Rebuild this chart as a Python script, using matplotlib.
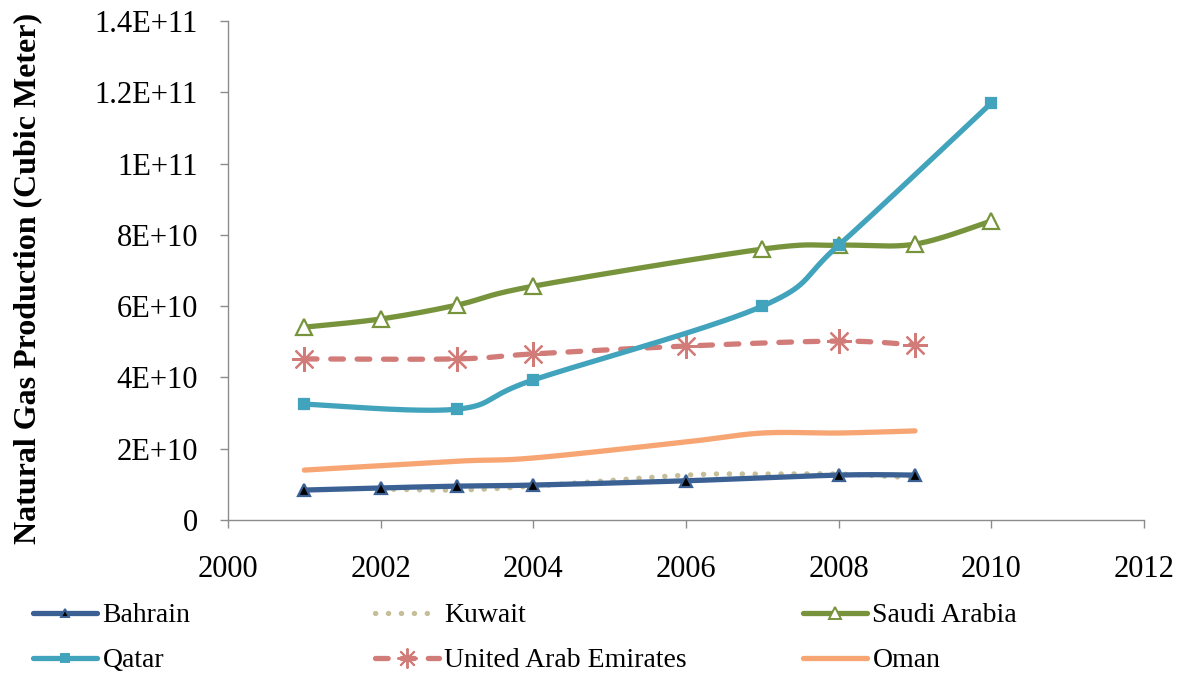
import numpy as np
import matplotlib.pyplot as plt
from matplotlib.lines import Line2D

plt.rcParams['font.family'] = ['Liberation Serif', 'DejaVu Serif']

# Natural gas production, cubic metres
bahrain_years = [2001, 2002, 2003, 2004, 2006, 2008, 2009]
bahrain_vals = [8.4e9, 9.0e9, 9.5e9, 9.8e9, 1.1e10, 1.26e10, 1.26e10]

kuwait_years = [2002, 2003, 2004, 2006, 2007, 2008, 2009]
kuwait_vals = [8.7e9, 8.4e9, 9.5e9, 1.26e10, 1.29e10, 1.29e10, 1.18e10]

saudi_years = [2001, 2002, 2003, 2004, 2007, 2008, 2009, 2010]
saudi_vals = [5.41e10, 5.64e10, 6.03e10, 6.56e10, 7.6e10, 7.71e10, 7.74e10, 8.39e10]

qatar_years = [2001, 2003, 2004, 2007, 2008, 2010]
qatar_vals = [3.25e10, 3.11e10, 3.93e10, 6.0e10, 7.71e10, 1.17e11]

uae_years = [2001, 2003, 2004, 2006, 2008, 2009]
uae_vals = [4.52e10, 4.52e10, 4.66e10, 4.88e10, 5.02e10, 4.91e10]

oman_years = [2001, 2003, 2004, 2006, 2007, 2008, 2009]
oman_vals = [1.40e10, 1.65e10, 1.74e10, 2.19e10, 2.44e10, 2.44e10, 2.5e10]

x_ticks = [2000, 2002, 2004, 2006, 2008, 2010, 2012]
y_ticks = [0, 2e10, 4e10, 6e10, 8e10, 1e11, 1.2e11, 1.4e11]
y_tick_labels = ['0', '2E+10', '4E+10', '6E+10', '8E+10', '1E+11', '1.2E+11', '1.4E+11']


def smooth(xs, ys, n=40):
    # Catmull-Rom style bezier through every point (spreadsheet "smoothed line")
    p = np.column_stack([xs, ys]).astype(float)
    if len(p) < 3:
        return p[:, 0], p[:, 1]
    ext = np.vstack([p[0], p, p[-1]])
    out = []
    t = np.linspace(0, 1, n)[:, None]
    for i in range(1, len(ext) - 2):
        p0, p1, p2, p3 = ext[i - 1], ext[i], ext[i + 1], ext[i + 2]
        c1 = p1 + (p2 - p0) / 6
        c2 = p2 - (p3 - p1) / 6
        seg = ((1 - t) ** 3) * p1 + 3 * ((1 - t) ** 2) * t * c1 \
            + 3 * (1 - t) * t ** 2 * c2 + t ** 3 * p2
        out.append(seg if i == 1 else seg[1:])
    out = np.vstack(out)
    return out[:, 0], out[:, 1]


fig = plt.figure(figsize=(11.79, 6.73), dpi=100)
ax = fig.add_axes([228 / 1179, 1 - 520 / 673, (1144 - 228) / 1179, (520 - 21) / 673])

lw = 3.8
series = [
    # name, years, values, colour, line style, marker, marker size, face, edge
    ('Bahrain', bahrain_years, bahrain_vals, '#3B6194', '-', '^', 8, 'black', '#3B6194'),
    ('Qatar', qatar_years, qatar_vals, '#42A3BD', '-', 's', 7, '#42A3BD', '#42A3BD'),
    ('Kuwait', kuwait_years, kuwait_vals, '#C6BE99', (0, (0.05, 2.4)), None, 0, None, None),
    ('United Arab Emirates', uae_years, uae_vals, '#D27C79', (0, (2.4, 2.6)), (8, 2, 0), 18, '#D27C79', '#D27C79'),
    ('Saudi Arabia', saudi_years, saudi_vals, '#77943C', '-', '^', 11, 'white', '#77943C'),
    ('Oman', oman_years, oman_vals, '#F7A573', '-', None, 0, None, None),
]

draw_order = ['Oman', 'Kuwait', 'Bahrain', 'United Arab Emirates', 'Saudi Arabia', 'Qatar']
handles = {}
for name, xs, ys, col, ls, mk, ms, fc, ec in series:
    sx, sy = smooth(xs, ys)
    z = 2 + draw_order.index(name)
    ax.plot(sx, sy, color=col, lw=lw, ls=ls, solid_capstyle='round',
            dash_capstyle='round', zorder=z)
    if mk is not None:
        ax.plot(xs, ys, ls='none', marker=mk, ms=ms, mfc=fc, mec=ec,
                mew=1.6, zorder=z + 0.5)
    handles[name] = Line2D([], [], color=col, lw=lw, ls=ls, marker=mk,
                           ms=ms * 0.8 if mk else 0, mfc=fc, mec=ec, mew=1.4,
                           solid_capstyle='round', dash_capstyle='round')

ax.set_xlim(2000, 2012)
ax.set_ylim(0, 1.4e11)
ax.set_xticks(x_ticks)
ax.set_xticklabels([str(v) for v in x_ticks])
ax.set_yticks(y_ticks)
ax.set_yticklabels(y_tick_labels)
ax.tick_params(labelsize=22, length=5.5, width=1, color='#8c8c8c')
ax.tick_params(axis='x', pad=20)
ax.tick_params(axis='y', pad=16)
for s in ['top', 'right']:
    ax.spines[s].set_visible(False)
for s in ['left', 'bottom']:
    ax.spines[s].set_color('#8c8c8c')
    ax.spines[s].set_linewidth(1)

fig.text(28 / 1179, 1 - 278 / 673, 'Natural Gas Production (Cubic Meter)',
         rotation=90, fontsize=23, fontweight='bold', ha='center', va='center')

# three legend columns, two entries each
columns = [['Bahrain', 'Qatar'], ['Kuwait', 'United Arab Emirates'],
           ['Saudi Arabia', 'Oman']]
col_x = [33 / 1179, 375 / 1179, 803 / 1179]
for names, x0 in zip(columns, col_x):
    leg = fig.legend([handles[n] for n in names], names, loc='upper left',
                     bbox_to_anchor=(x0, 1 - 603 / 673), frameon=False,
                     fontsize=20, handlelength=2.3, handletextpad=0.2,
                     labelspacing=0.7, borderpad=0, borderaxespad=0,
                     numpoints=1)

fig.savefig('out.png', dpi=100)
